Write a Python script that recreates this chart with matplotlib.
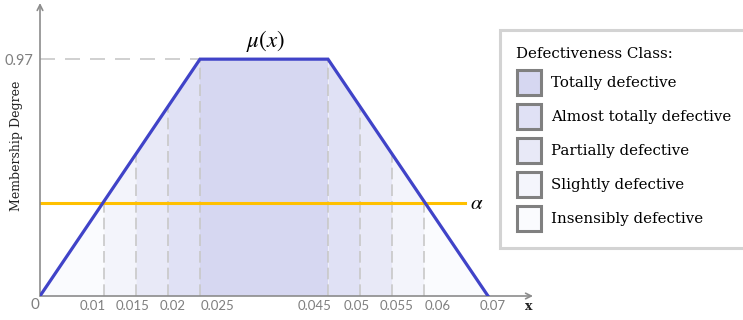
import numpy as np
import matplotlib
matplotlib.use("Agg")
import matplotlib.pyplot as plt
from matplotlib.patches import Patch
from matplotlib.transforms import ScaledTranslation

plt.rcParams['mathtext.fontset'] = 'stix'

# membership function corners
trap_x = [0, 0.025, 0.045, 0.07]
trap_y = [0, 0.97, 0.97, 0]
alpha = 0.38
alpha_end = 0.0664

# shaded bands under the curve
band_edges = [0, 0.01, 0.015, 0.02, 0.025, 0.045, 0.05, 0.055, 0.06, 0.07]
band_colors = ['#fafbfe', '#f3f4fb', '#e8e9f7', '#e0e1f5', '#d6d7f1',
               '#e0e1f5', '#e8e9f7', '#f3f4fb', '#fafbfe']

tick_vals = [0.01, 0.015, 0.02, 0.025, 0.045, 0.05, 0.055, 0.06, 0.07]
tick_labels = ['0.01', '0.015', '0.02', '0.025', '0.045', '0.05', '0.055', '0.06', '0.07']
tick_shift_px = [-11, -3, 5, 17, -13, -3, 5, 14, 5]

classes = ['Totally defective', 'Almost totally defective', 'Partially defective',
           'Slightly defective', 'Insensibly defective']
class_colors = ['#d6d7f1', '#e0e1f5', '#e8e9f7', '#f4f5fc', '#fafbfe']

W, H = 743, 320
fig = plt.figure(figsize=(W / 100, H / 100), dpi=100)
ax = fig.add_axes([40 / W, 24 / H, 493 / W, 293 / H])
ax.set_xlim(0, 493 / 6400)
ax.set_ylim(0, 1.2)

mu = lambda x: np.interp(x, trap_x, trap_y)

for i, c in enumerate(band_colors):
    xs = np.linspace(band_edges[i], band_edges[i + 1], 50)
    ax.fill_between(xs, 0, mu(xs), color=c, lw=0, zorder=1)

for x in band_edges[1:-1]:
    ax.plot([x, x], [0, mu(x)], color='#c8c8c8', lw=1.2, dashes=(7, 3), zorder=2)
ax.plot([0, trap_x[1]], [0.97, 0.97], color='#c8c8c8', lw=1.2, dashes=(9, 6), zorder=2)

ax.plot(trap_x, trap_y, color='#4043c8', lw=2.3, zorder=4, solid_joinstyle='miter')
ax.plot([0, alpha_end], [alpha, alpha], color='#ffc000', lw=2.2, zorder=3)
ax.text(alpha_end + 0.0008, alpha, r'$\alpha$', fontsize=15, va='center', ha='left')
ax.text(0.0353, 0.99, r'$\mu(x)$', fontsize=16.5, va='bottom', ha='center')

# axes drawn as arrows
for s in ax.spines.values():
    s.set_visible(False)
ax.annotate('', xy=(0, 1), xytext=(0, 0), xycoords='axes fraction',
            arrowprops=dict(arrowstyle='->', color='#8c8c8c', lw=1.2, shrinkA=0, shrinkB=0))
ax.annotate('', xy=(1, 0), xytext=(0, 0), xycoords='axes fraction',
            arrowprops=dict(arrowstyle='->', color='#8c8c8c', lw=1.2, shrinkA=0, shrinkB=0))

ax.set_xticks(tick_vals)
ax.set_xticklabels(tick_labels, fontsize=9.5, color='#7f7f7f', family='Lato')
ax.tick_params(axis='x', length=0, pad=3)
for lbl, dx in zip(ax.get_xticklabels(), tick_shift_px):
    lbl.set_transform(lbl.get_transform() + ScaledTranslation(dx / 100, 0, fig.dpi_scale_trans))
ax.set_yticks([0.97])
ax.set_yticklabels(['0.97'], fontsize=10.5, color='#7f7f7f', family='Lato')
ax.tick_params(axis='y', length=0, pad=5)

fig.text(35 / W, 1 - 305 / H, '0', fontsize=11, color='#7f7f7f', family='Lato',
         ha='center', va='center')
fig.text(529 / W, 1 - 307 / H, 'x', fontsize=9, fontweight='bold', family='DejaVu Serif',
         ha='center', va='center', color='#222222')
fig.text(17 / W, 1 - 146 / H, 'Membership Degree', fontsize=9, family='DejaVu Serif',
         rotation=90, ha='center', va='center', color='#222222')

handles = [Patch(facecolor=c, edgecolor='#808080', lw=2.2) for c in class_colors]
leg = fig.legend(handles, classes, title='Defectiveness Class:', loc='upper left',
                 bbox_to_anchor=(500 / W, 1 - 30 / H), frameon=True, fancybox=False,
                 prop={'family': 'DejaVu Serif', 'size': 10.8},
                 title_fontproperties={'family': 'DejaVu Serif', 'size': 10.8},
                 alignment='left', handlelength=1.65, handleheight=2.2,
                 handletextpad=0.65, labelspacing=0.6, borderpad=1.1, borderaxespad=0)
leg.get_frame().set_edgecolor('#c8c8c8')
leg.get_frame().set_linewidth(2.2)

fig.savefig('out.png', dpi=100)
